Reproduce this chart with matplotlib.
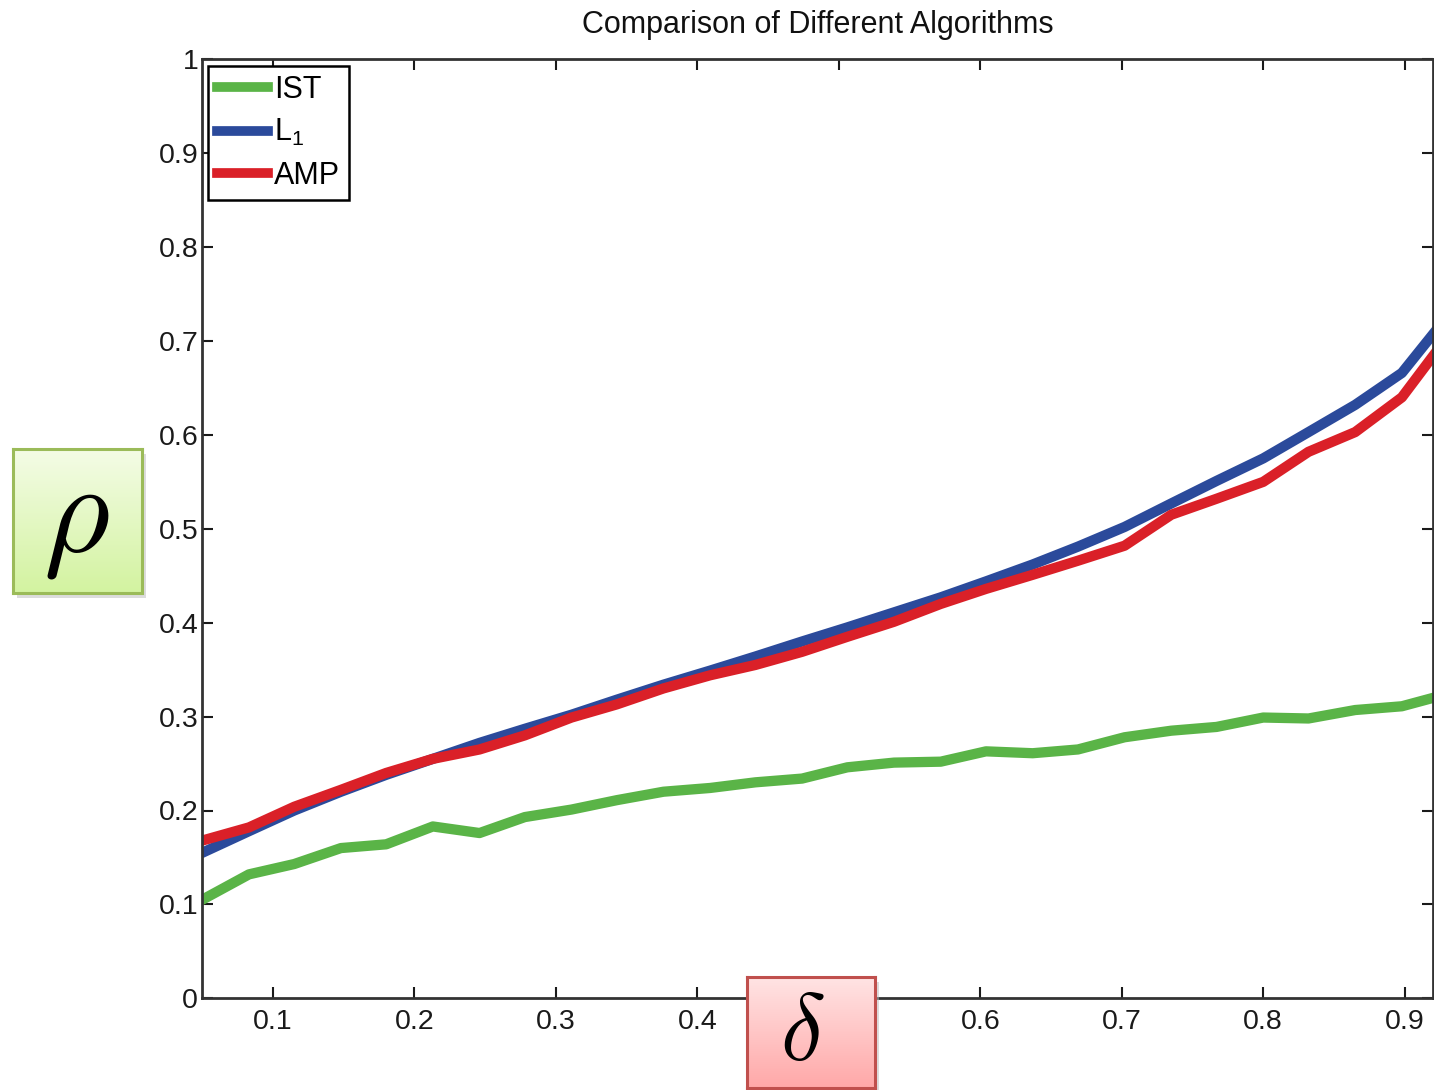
import numpy as np
import matplotlib
matplotlib.use("Agg")
import matplotlib.pyplot as plt

# ---- data ----
delta = [0.050, 0.083, 0.115, 0.148, 0.180, 0.213, 0.246, 0.278, 0.311, 0.343,
         0.376, 0.409, 0.441, 0.474, 0.506, 0.539, 0.572, 0.604, 0.637, 0.669,
         0.702, 0.735, 0.767, 0.800, 0.832, 0.865, 0.898, 0.930]
ist = [0.105, 0.132, 0.143, 0.160, 0.164, 0.183, 0.176, 0.193, 0.201, 0.211,
       0.220, 0.224, 0.230, 0.234, 0.246, 0.251, 0.252, 0.263, 0.261, 0.265,
       0.278, 0.285, 0.289, 0.299, 0.298, 0.307, 0.311, 0.324]
l1 = [0.155, 0.178, 0.200, 0.220, 0.238, 0.255, 0.272, 0.287, 0.302, 0.318,
      0.334, 0.349, 0.364, 0.380, 0.395, 0.411, 0.427, 0.444, 0.462, 0.481,
      0.502, 0.527, 0.551, 0.575, 0.603, 0.632, 0.666, 0.726]
amp = [0.168, 0.182, 0.204, 0.222, 0.240, 0.255, 0.265, 0.280, 0.299, 0.313,
       0.330, 0.344, 0.355, 0.369, 0.385, 0.401, 0.420, 0.436, 0.451, 0.466,
       0.482, 0.515, 0.532, 0.550, 0.582, 0.603, 0.640, 0.704]
series_names = ["IST", r"L$_1$", "AMP"]
xticks = [0.1, 0.2, 0.3, 0.4, 0.5, 0.6, 0.7, 0.8, 0.9]
# the 0.5 label is hidden behind the delta box in the reference
xticklabels = ["0.1", "0.2", "0.3", "0.4", "", "0.6", "0.7", "0.8", "0.9"]
yticks = [0, 0.1, 0.2, 0.3, 0.4, 0.5, 0.6, 0.7, 0.8, 0.9, 1]
yticklabels = ["0", "0.1", "0.2", "0.3", "0.4", "0.5", "0.6", "0.7", "0.8", "0.9", "1"]
title = "Comparison of Different Algorithms"

plt.rcParams['font.family'] = ['Liberation Sans', 'DejaVu Sans']
plt.rcParams['mathtext.fontset'] = 'custom'
plt.rcParams['mathtext.rm'] = 'Liberation Sans'
plt.rcParams['mathtext.it'] = 'Liberation Sans'

W, H = 1434, 1090
fig = plt.figure(figsize=(W / 100, H / 100), dpi=100)
fig.patch.set_facecolor("white")

ax = fig.add_axes([202.3 / W, 1 - 998.3 / H, (1433 - 202.3) / W, (998.3 - 59.3) / H])
green, blue, red = "#5AB447", "#2B4A9B", "#DA2028"
ax.plot(delta, ist, color=green, lw=7.4, label=series_names[0], solid_joinstyle="round")
ax.plot(delta, l1, color=blue, lw=7.4, label=series_names[1], solid_joinstyle="round")
ax.plot(delta, amp, color=red, lw=7.4, label=series_names[2], solid_joinstyle="round")

ax.set_xlim(0.05, 0.92)
ax.set_ylim(0, 1)
ax.set_xticks(xticks)
ax.set_xticklabels(xticklabels)
ax.set_yticks(yticks)
ax.set_yticklabels(yticklabels)
ax.tick_params(direction="in", length=8, width=1.5, top=True, right=True,
               labelsize=20.5, colors="#1a1a1a")
ax.tick_params(axis="x", pad=8)
ax.tick_params(axis="y", pad=3)
for s in ax.spines.values():
    s.set_linewidth(2)
    s.set_color("#333333")
ax.set_title(title, fontsize=22, pad=19, color="#111111")

leg = ax.legend(loc="upper left", bbox_to_anchor=(0.0046, 0.993), borderaxespad=0,
                fontsize=22, handlelength=1.65, handletextpad=0.2, labelspacing=0.4,
                borderpad=0.3, fancybox=False, framealpha=1, edgecolor="black")
leg.get_frame().set_linewidth(1.8)
for line in leg.get_lines():
    line.set_linewidth(7)


def gradient_box(x0, y0, x1, y1, ctop, cbot, edge, label, tx, ty, fs):
    # shadow
    sh = fig.add_axes([(x0 + 4) / W, 1 - (y1 + 5) / H, (x1 - x0) / W, (y1 - y0) / H])
    sh.set_facecolor("#bbbbbb")
    sh.patch.set_alpha(0.5)
    sh.set_xticks([]); sh.set_yticks([])
    for s in sh.spines.values():
        s.set_visible(False)
    bx = fig.add_axes([x0 / W, 1 - y1 / H, (x1 - x0) / W, (y1 - y0) / H])
    c1 = np.array(matplotlib.colors.to_rgb(ctop))
    c2 = np.array(matplotlib.colors.to_rgb(cbot))
    t = np.linspace(0, 1, 256)[:, None]
    img = (c1[None, :] * (1 - t) + c2[None, :] * t)[:, None, :]
    bx.imshow(img, aspect="auto", extent=[0, 1, 0, 1], origin="upper")
    bx.set_xlim(0, 1); bx.set_ylim(0, 1)
    bx.set_xticks([]); bx.set_yticks([])
    for s in bx.spines.values():
        s.set_color(edge)
        s.set_linewidth(2.2)
    bx.text(tx, ty, label, ha="center", va="center", fontsize=fs,
            math_fontfamily="cm", color="black")
    return bx


gradient_box(13, 449, 142, 593, "#F4FCE6", "#D3F3A0", "#9BBB59", r"$\rho$", 0.49, 0.50, 92)
gradient_box(747, 977, 875, 1088, "#FFE4E4", "#FFA8A8", "#C0504D", r"$\delta$", 0.43, 0.47, 68)

fig.savefig("out.png", dpi=100, facecolor="white")
